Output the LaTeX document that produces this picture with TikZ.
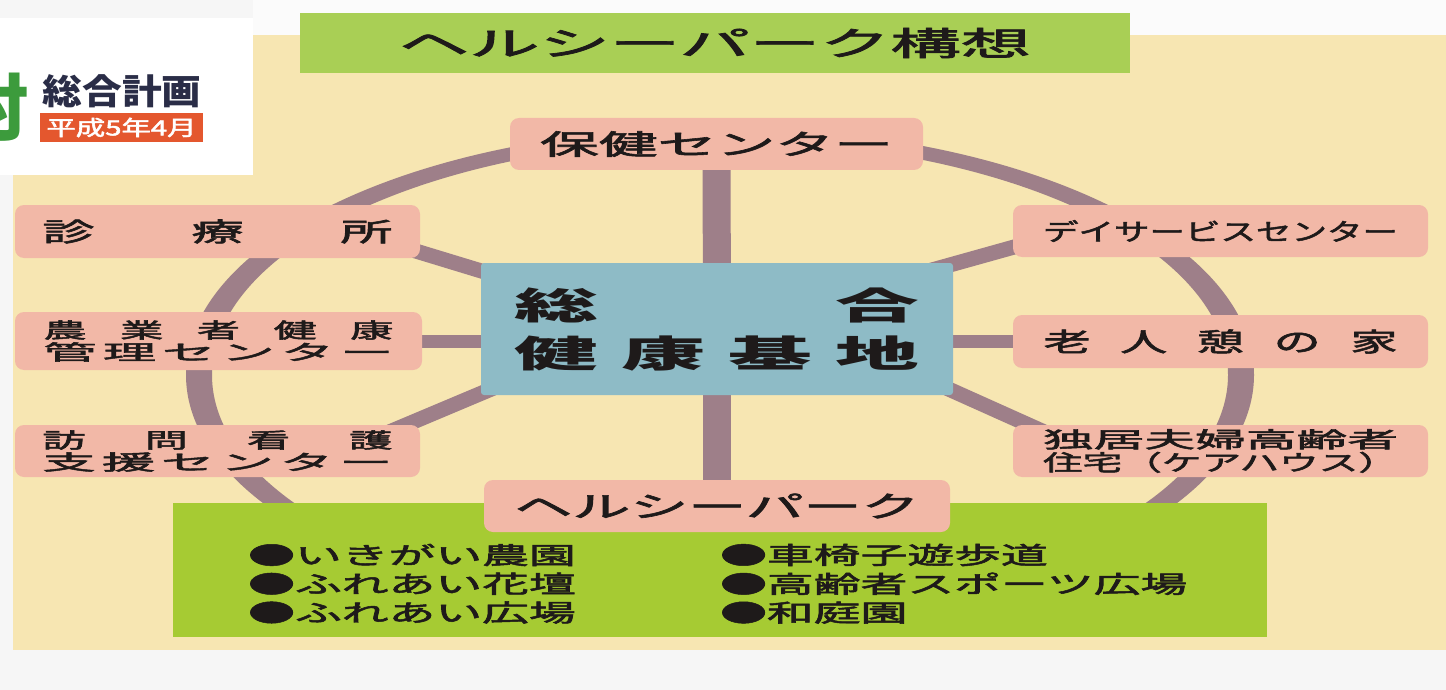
\documentclass[tikz,border=0pt]{standalone}
\usepackage{fontspec}
\setmainfont{Noto Sans CJK JP}
\newfontfamily\med{Noto Sans CJK JP}[RawFeature={embolden=2}]
\usepackage{graphicx}
\usetikzlibrary{calc}
\pgfdeclarelayer{bg}
\pgfdeclarelayer{back}
\pgfsetlayers{bg,back,main}
\definecolor{beige}{HTML}{F7E6B2}
\definecolor{pagegrey}{HTML}{F6F6F6}
\definecolor{titlegreen}{HTML}{A9CF55}
\definecolor{listgreen}{HTML}{A6CB33}
\definecolor{pinkfill}{HTML}{F2B8A7}
\definecolor{bluefill}{HTML}{8EBBC6}
\definecolor{ringcol}{HTML}{9E7F89}
\definecolor{ink}{HTML}{1E1A1A}
\definecolor{navy}{HTML}{2A2D47}
\definecolor{redfill}{HTML}{E4572E}
\definecolor{muragreen}{HTML}{3C9B3C}
% stretch text to a final width, keeping its height
\newcommand\fw[2]{\resizebox{#1pt}{\height}{#2}}
% spread text over a natural width, then stretch to a final width
\newcommand\sq[3]{\resizebox{#1pt}{\height}{\makebox[#2pt][s]{#3}}}
\begin{document}
\begin{tikzpicture}[x=1pt,y=-1pt,
  outerbox/.style={fill=pinkfill, rounded corners=9pt, inner sep=0pt, text=ink, align=center},
  spokeline/.style={draw=ringcol, line width=#1},
  listcol/.style={anchor=west, inner sep=0pt, text=ink, font=\med\fontsize{24}{28.5}\selectfont}]
\useasboundingbox (0,0) rectangle (1446,690);

\begin{pgfonlayer}{bg}
  \fill[pagegrey] (0,0) rectangle (1446,690);
  \fill[white!60!pagegrey] (253,0) rectangle (1446,35);
  \fill[beige] (13,35) rectangle (1446,650);
  \fill[white] (0,18) rectangle (253,175);
\end{pgfonlayer}

% header overlay
\node[anchor=east, inner sep=0pt, text=muragreen, font=\fontsize{72}{76}\selectfont\bfseries] (mura) at (29,107) {村};
\node[inner sep=0pt, text=navy, font=\fontsize{35}{38}\selectfont\bfseries] (plan) at (122,91) {\fw{159}{総合計画}};
\node[fill=redfill, minimum width=163pt, minimum height=29pt, inner sep=0pt, text=white, font=\med\fontsize{21}{23}\selectfont] (date) at (121.5,127.5) {\fw{150}{平成5年4月}};

% title
\node[fill=titlegreen, minimum width=830pt, minimum height=60pt, inner sep=0pt, text=ink, font=\med\fontsize{33}{36}\selectfont] (title) at (715,43) {\fw{632}{ヘルシーパーク構想}};

% bottom list panel
\node[fill=listgreen, minimum width=1094pt, minimum height=134pt, inner sep=0pt] (panel) at (720,570) {};
\node[listcol] (list1) at (248,587) {\scalebox{1.95}[1]{\begin{tabular}{@{}l@{}}●いきがい農園\\●ふれあい花壇\\●ふれあい広場\end{tabular}}};
\node[listcol] (list2) at (720,587) {\scalebox{1.95}[1]{\begin{tabular}{@{}l@{}}●車椅子遊歩道\\●高齢者スポーツ広場\\●和庭園\end{tabular}}};

% centre
\node[fill=bluefill, rounded corners=3pt, minimum width=472pt, minimum height=132pt, inner sep=0pt, text=ink, align=center, font=\fontsize{37}{48}\selectfont\bfseries] (cbox) at (717,329)
  {\sq{405}{179}{総\hfill 合}\\\sq{405}{179}{健\hfill 康\hfill 基\hfill 地}};

% outer boxes
\node[outerbox, minimum width=413pt, minimum height=52pt, font=\med\fontsize{28}{30}\selectfont] (hoken) at (716.5,144) {\fw{353}{保健センター}};
\node[outerbox, minimum width=405pt, minimum height=53pt, font=\med\fontsize{26}{28}\selectfont] (shinryo) at (217.5,231.5) {\sq{350}{175}{診\hfill 療\hfill 所}};
\node[outerbox, minimum width=407pt, minimum height=58pt, font=\med\fontsize{21}{22}\selectfont] (nogyo) at (218.5,341)
  {\sq{350}{170}{農\hfill 業\hfill 者\hfill 健\hfill 康}\\\sq{350}{138}{管\hfill 理\hfill セ\hfill ン\hfill タ\hfill ー}};
\node[outerbox, minimum width=405pt, minimum height=52pt, font=\med\fontsize{21}{22}\selectfont] (houmon) at (217.5,451)
  {\sq{350}{170}{訪\hfill 問\hfill 看\hfill 護}\\\sq{350}{138}{支\hfill 援\hfill セ\hfill ン\hfill タ\hfill ー}};
\node[outerbox, minimum width=415pt, minimum height=52pt, font=\med\fontsize{24}{26}\selectfont] (day) at (1220.5,231) {\fw{355}{デイサービスセンター}};
\node[outerbox, minimum width=415pt, minimum height=53pt, font=\med\fontsize{26}{28}\selectfont] (rojin) at (1220.5,341.5) {\sq{354}{196}{老\hfill 人\hfill 憩\hfill の\hfill 家}};
\node[outerbox, minimum width=415pt, minimum height=52pt, font=\med\fontsize{22}{23}\selectfont] (dokkyo) at (1220.5,451)
  {\fw{355}{独居夫婦高齢者}\\\fw{355}{住宅（ケアハウス）}};
\node[outerbox, minimum width=466pt, minimum height=52pt, font=\med\fontsize{29}{31}\selectfont] (park) at (717,506) {\fw{405}{ヘルシーパーク}};

% ring and spokes behind the boxes
\coordinate (hub) at (720,375);
\begin{pgfonlayer}{back}
  \fill[ringcol, even odd rule] (hub) ellipse [x radius=534pt, y radius=247.5pt]
                                (hub) ellipse [x radius=508pt, y radius=234.5pt];
  \draw[spokeline=28pt] (hoken.center) -- (cbox.center);
  \draw[spokeline=28pt] (cbox.center) -- (park.center);
  \draw[spokeline=13pt] (nogyo.center) -- (nogyo.center -| cbox.center);
  \draw[spokeline=13pt] (rojin.center) -- (rojin.center -| cbox.center);
  \draw[spokeline=15pt] ($(cbox.north west)+(59,26)$) -- ($(shinryo.south east)+(-40,-18)$);
  \draw[spokeline=15pt] ($(cbox.north east)+(-60,18)$) -- ($(day.south west)+(40,-21)$);
  \draw[spokeline=15pt] ($(cbox.south west)+(60,-27)$) -- ($(houmon.north east)+(-40,11)$);
  \draw[spokeline=15pt] ($(cbox.south east)+(-60,-31)$) -- ($(dokkyo.north west)+(40,11)$);
\end{pgfonlayer}
\end{tikzpicture}
\end{document}
